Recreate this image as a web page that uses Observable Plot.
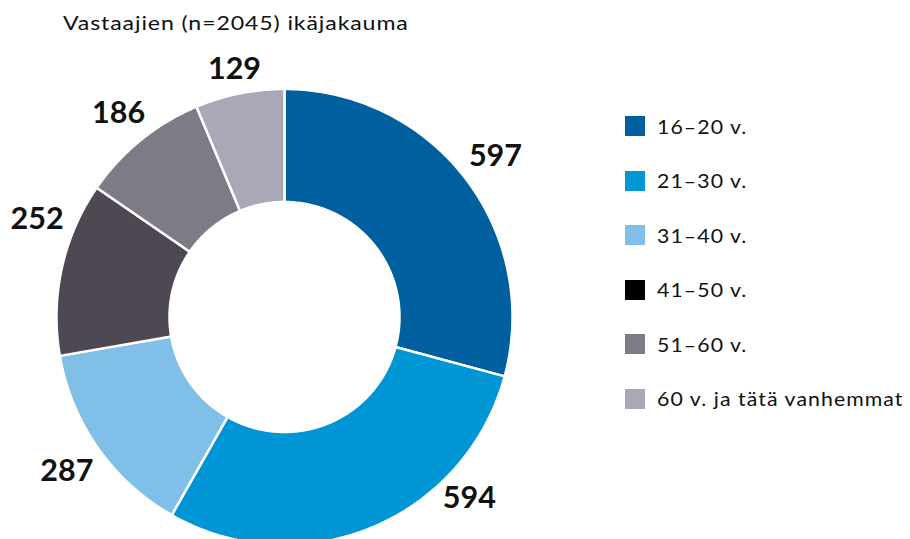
<!DOCTYPE html>
<html><head><meta charset="utf-8">
<script src="https://cdn.jsdelivr.net/npm/d3@7"></script>
<script src="https://cdn.jsdelivr.net/npm/@observablehq/plot@0.6"></script>
<style>
body{margin:0;background:#fff;font-family:Lato,"Noto Sans",sans-serif;}
#wrap{position:relative;width:910px;height:539px;overflow:hidden}
#chart{position:absolute;left:0;top:0}
#title{position:absolute;left:63px;top:14px;font-size:18.5px;line-height:18px;color:#111;letter-spacing:0.7px;white-space:nowrap;transform:scaleX(1.25);transform-origin:0 50%}
#legend{position:absolute;left:625px;top:116px}
.row{display:flex;align-items:center;height:20px;margin-bottom:34.6px}
.sw{width:20px;height:20px;margin-right:12px;flex:none}
.lab{font-size:19px;color:#111;letter-spacing:0.95px;white-space:nowrap;transform:scaleX(1.12);transform-origin:0 50%}
</style></head>
<body>
<div id="wrap">
  <div id="chart"></div>
  <div id="title"></div>
  <div id="legend"></div>
</div>
<script>
// ---- data ----
const titleText = "Vastaajien (n=2045) ikäjakauma";
const categories = ["16–20 v.", "21–30 v.", "31–40 v.", "41–50 v.", "51–60 v.", "60 v. ja tätä vanhemmat"];
const counts = [597, 594, 287, 252, 186, 129];
const sliceColors = ["#00609f", "#0096d6", "#80bfe8", "#4d4852", "#7e7b86", "#a8a8b6"];
const legendColors = ["#00609f", "#0096d6", "#80bfe8", "#000000", "#7e7b86", "#a8a8b6"];

// ---- layout ----
const W = 910, H = 539;
const cx = 284, cy = 316.5, Rpx = 228;
const inner = 115 / 228;
const labelFont = 30.5;
const labelGap = 11;
const padLeft = 10, padBottom = 31;

const total = d3.sum(counts);
const sliceRows = [];
const labelRows = [];
let cum = 0;
categories.forEach((cat, i) => {
  const a0 = cum / total * 2 * Math.PI;
  cum += counts[i];
  const a1 = cum / total * 2 * Math.PI;
  const n = Math.max(2, Math.ceil((a1 - a0) / (Math.PI / 360)));
  for (let k = 0; k <= n; k++) {
    const a = a0 + (a1 - a0) * k / n;
    sliceRows.push({cat, x: Math.sin(a), y: Math.cos(a)});
  }
  for (let k = n; k >= 0; k--) {
    const a = a0 + (a1 - a0) * k / n;
    sliceRows.push({cat, x: inner * Math.sin(a), y: inner * Math.cos(a)});
  }
  // label outside the ring, offset by the label's half box along the mid-angle
  const am = (a0 + a1) / 2;
  const label = String(counts[i]);
  const halfW = label.length * 0.58 * labelFont / 2;
  const halfH = 0.72 * labelFont / 2;
  const s = Math.sin(am), c = Math.cos(am);
  const rr = (Rpx - 1 + labelGap + Math.abs(s) * halfW + Math.abs(c) * halfH) / Rpx;
  let lx = rr * s, ly = rr * c;
  // keep the label inside the frame: slide it along its circle
  const yMin = -(H - cy - padBottom - halfH) / Rpx;
  const xMin = -(cx - padLeft - halfW) / Rpx;
  if (ly < yMin) { ly = yMin; lx = Math.sign(lx) * Math.sqrt(rr * rr - ly * ly); }
  if (lx < xMin) { lx = xMin; ly = Math.sign(ly) * Math.sqrt(rr * rr - lx * lx); }
  labelRows.push({label, x: lx, y: ly});
});

const chart = Plot.plot({
  width: W, height: H, margin: 0,
  x: {domain: [-cx / Rpx, (W - cx) / Rpx], range: [0, W], axis: null},
  y: {domain: [-(H - cy) / Rpx, cy / Rpx], range: [H, 0], axis: null},
  color: {domain: categories, range: sliceColors},
  style: {fontFamily: "Lato, 'Noto Sans', sans-serif", background: "transparent"},
  marks: [
    Plot.line(sliceRows, {x: "x", y: "y", z: "cat", fill: "cat", stroke: "white", strokeWidth: 2.5, curve: "linear-closed"}),
    Plot.text(labelRows, {x: "x", y: "y", text: "label", fontSize: labelFont, fontWeight: "bold", fill: "#111", dy: 1})
  ]
});
document.getElementById("chart").appendChild(chart);
document.getElementById("title").textContent = titleText;

const legend = document.getElementById("legend");
categories.forEach((cat, i) => {
  const row = document.createElement("div");
  row.className = "row";
  const sw = document.createElement("div");
  sw.className = "sw";
  sw.style.background = legendColors[i];
  const lab = document.createElement("div");
  lab.className = "lab";
  lab.textContent = cat;
  row.appendChild(sw); row.appendChild(lab);
  legend.appendChild(row);
});
</script>
</body></html>
